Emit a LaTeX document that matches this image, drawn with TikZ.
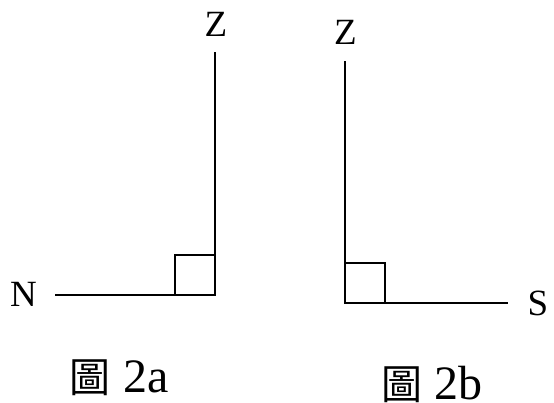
\documentclass[tikz,border=0pt]{standalone}
\usepackage{fontspec}
\setmainfont{Liberation Serif}
\newfontfamily\cjk{Noto Sans CJK TC}
\begin{document}
\begin{tikzpicture}[x=1pt,y=-1pt,
  axis/.style={line width=2pt, line cap=rect},
  rangle/.style={line width=1.6pt},
  lbl/.style={inner sep=0pt, font=\fontsize{37}{42}\selectfont},
  captxt/.style={inner sep=0pt, text depth=0pt, anchor=base west, font=\fontsize{48}{52}\selectfont}]
\useasboundingbox (0,0) rectangle (554,403);
% Figure 2a
\coordinate (aO) at (215,295);
\coordinate (aZ) at (215,53);
\coordinate (aN) at (56,295);
\draw[axis] (aZ) -- (aO) -- (aN);
\draw[rangle] (175,295) -- (175,255) -- (215,255);
\node[lbl] (lZa) at (216,24.5) {Z};
\node[lbl] (lN) at (23.5,294) {N};
\node[captxt] (ca) at (69,392) {{\cjk\fontsize{41}{44}\selectfont 圖}\hspace{13pt}2a};
% Figure 2b
\coordinate (bO) at (345,303);
\coordinate (bZ) at (345,62);
\coordinate (bS) at (507,303);
\draw[axis] (bZ) -- (bO) -- (bS);
\draw[rangle] (345,263) -- (385,263) -- (385,303);
\node[lbl] (lZb) at (345.5,32.5) {Z};
\node[lbl] (lS) at (538,303) {S};
\node[captxt] (cb) at (381,399) {{\cjk\fontsize{41}{44}\selectfont 圖}\hspace{12pt}2b};
\end{tikzpicture}
\end{document}
